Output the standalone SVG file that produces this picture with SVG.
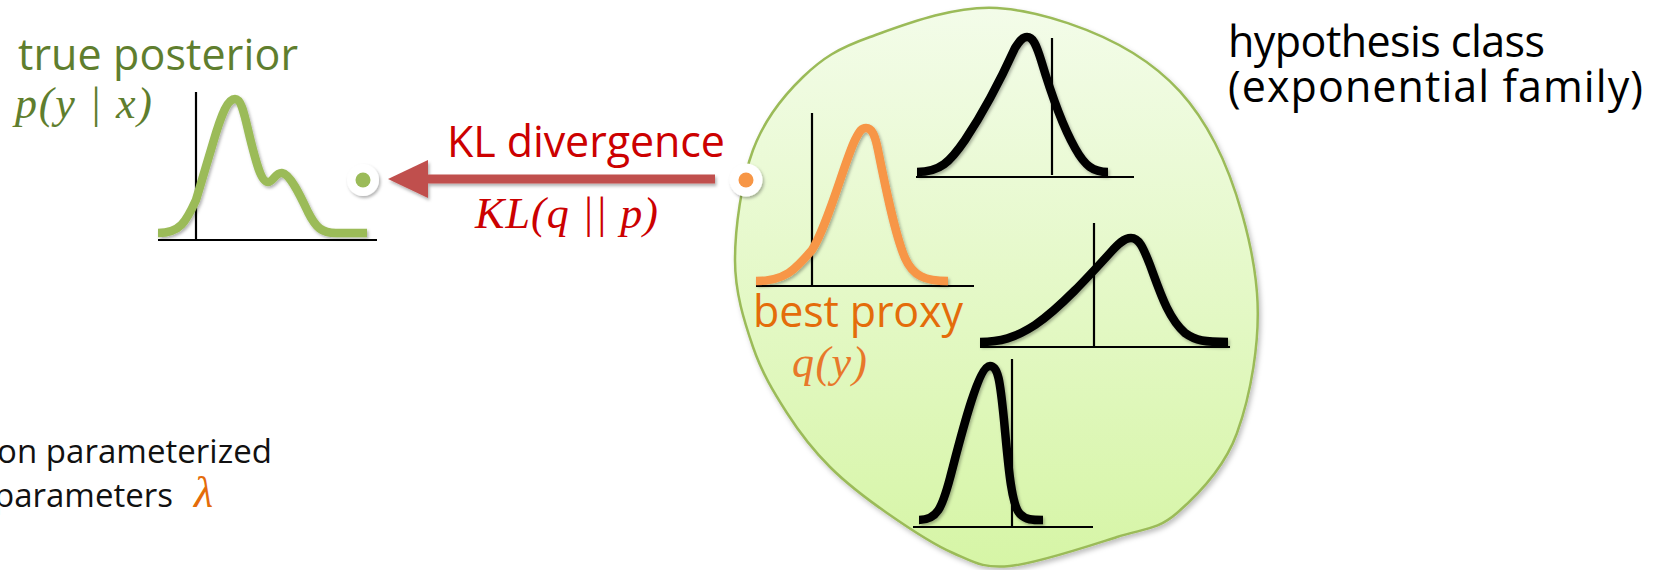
<svg xmlns="http://www.w3.org/2000/svg" width="1656" height="570" viewBox="0 0 1656 570">
<defs>
<linearGradient id="blobFill" x1="0" y1="0" x2="0" y2="1">
<stop offset="0" stop-color="#F3FCE9"/>
<stop offset="1" stop-color="#D6F5A6"/>
</linearGradient>
<filter id="shadow" x="-20%" y="-20%" width="140%" height="140%">
<feDropShadow dx="1.5" dy="2" stdDeviation="1.5" flood-color="#000" flood-opacity="0.3"/>
</filter>
<filter id="arrowShadow" filterUnits="userSpaceOnUse" x="360" y="140" width="380" height="80">
<feDropShadow dx="1.5" dy="2.5" stdDeviation="1.5" flood-color="#000" flood-opacity="0.3"/>
</filter>
<filter id="blobShadow" x="-10%" y="-10%" width="120%" height="120%">
<feDropShadow dx="2" dy="3" stdDeviation="2.5" flood-color="#000" flood-opacity="0.25"/>
</filter>
<marker id="head" viewBox="0 0 40 38" refX="0" refY="19" markerWidth="40" markerHeight="38" markerUnits="userSpaceOnUse" orient="auto">
<path d="M0,0 L40,19 L0,38 z" fill="#C0504D"/>
</marker>
<style>
.lbl{font-family:"Open Sans","Noto Sans",sans-serif;font-size:43px}
.small{font-family:"Open Sans","Noto Sans",sans-serif;font-size:33px;fill:#111}
.math{font-family:"Liberation Serif","Times New Roman",serif;font-style:italic;font-size:44px}
.axis{stroke:#000;stroke-width:2.2;fill:none}
.curve{fill:none;stroke-width:8.5;stroke-linecap:butt;stroke-linejoin:round;filter:url(#shadow)}
.black{stroke:#000}
.dotRing{fill:#fff;filter:url(#shadow)}
</style>
</defs>
<rect width="1656" height="570" fill="#fff"/>

<g id="hypothesis-class">
<path d="M997,8 C1040.8,10.7 1096.7,30.5 1133,53 C1169.3,75.5 1194.3,103 1215,143 C1235.7,183 1253.3,244.7 1257,293 C1260.7,341.3 1250.3,396.3 1237,433 C1223.7,469.7 1197,495.7 1177,513 C1157,530.3 1144.8,528.2 1117,537 C1089.2,545.8 1037.3,563.3 1010,566 C982.7,568.7 973.5,561.8 953,553 C932.5,544.2 907.5,527.3 887,513 C866.5,498.7 846.7,483.7 830,467 C813.3,450.3 799.8,433 787,413 C774.2,393 761.7,372.5 753,347 C744.3,321.5 735,292.8 735,260 C735,227.2 741.7,180.5 753,150 C764.3,119.5 783.5,95.8 803,77 C822.5,58.2 837.7,48.5 870,37 C902.3,25.5 953.2,5.3 997,8 Z" fill="url(#blobFill)" stroke="#9BBB59" stroke-width="2.5" filter="url(#blobShadow)"/>
<text class="lbl" fill="#000"><tspan x="1228" y="57" textLength="317" lengthAdjust="spacing">hypothesis class</tspan><tspan x="1228" y="102" textLength="415" lengthAdjust="spacing">(exponential family)</tspan></text>
</g>

<g id="hyp-top">
<line class="axis" x1="1052" y1="38" x2="1052" y2="175"/>
<line class="axis" x1="916" y1="177" x2="1134" y2="177"/>
<path class="curve black" d="M917,172 C940,172 950,162 965,140 C985,110 1005,70 1015,48 C1020,40 1023,37 1027,37 C1033,37 1036,44 1041,60 C1050,90 1062,125 1075,148 C1085,166 1093,172 1108,172"/>
</g>

<g id="hyp-middle">
<line class="axis" x1="1094" y1="223" x2="1094" y2="346"/>
<line class="axis" x1="980" y1="347" x2="1230" y2="347"/>
<path class="curve black" d="M980,342 C1000,342 1015,338 1035,325 C1060,308 1090,275 1110,253 C1118,244 1124,238 1131,238 C1139,238 1143,247 1150,265 C1160,292 1168,318 1185,333 C1196,341 1205,342 1228,342"/>
</g>

<g id="hyp-bottom">
<line class="axis" x1="1012" y1="359" x2="1012" y2="526"/>
<line class="axis" x1="913" y1="527" x2="1093" y2="527"/>
<path class="curve black" d="M919,520 C937,520 942,508 950,478 C960,440 978,366 990,366 C998,366 1000,380 1004,420 C1008,462 1011,505 1020,514 C1026,520 1032,520 1043,520"/>
</g>

<g id="best-proxy">
<line class="axis" x1="812" y1="113" x2="812" y2="285"/>
<line class="axis" x1="756" y1="286" x2="974" y2="286"/>
<path class="curve" stroke="#F79646" d="M756,281 C785,281 795,270 812,250 C828,225 845,160 855,140 C860,130 862,128 866,128 C872,128 875,135 878,150 C885,185 895,235 905,258 C913,276 925,281 948,281"/>
<text class="lbl" x="753" y="327" fill="#E46C0A" textLength="210" lengthAdjust="spacing">best proxy</text>
<text class="math" x="792" y="377" fill="#E8782A" textLength="75" lengthAdjust="spacing">q(y)</text>
<circle class="dotRing" cx="746" cy="180" r="16.5"/>
<circle cx="746" cy="180" r="7.5" fill="#F79646"/>
</g>

<g id="true-posterior">
<text class="lbl" x="18" y="70" fill="#5F7E2E" textLength="280" lengthAdjust="spacing">true posterior</text>
<text class="math" x="15" y="118" fill="#5F7E2E" font-size="42" textLength="137" lengthAdjust="spacing">p(y | x)</text>
<line class="axis" x1="196" y1="92" x2="196" y2="239"/>
<line class="axis" x1="158" y1="240" x2="377" y2="240"/>
<path class="curve" stroke="#9BBB59" d="M158,233 C180,233 186,222 196,200 L213,143 C222,112 228,99 235,99 C242,99 245,118 250,138 C256,162 261,182 268,182 C273,182 276,172 282,173 C290,174 300,195 308,212 C316,228 322,233 336,233 L367,233"/>
<circle class="dotRing" cx="363" cy="180" r="16"/>
<circle cx="363" cy="180" r="7.5" fill="#9BBB59"/>
</g>

<g id="connectors">
<path d="M715,179 L428,179" stroke="#C0504D" stroke-width="9" fill="none" marker-end="url(#head)" filter="url(#arrowShadow)"/>
<text class="lbl" x="447" y="157" fill="#CC0000" textLength="278" lengthAdjust="spacing">KL divergence</text>
<text class="math" x="475" y="228" fill="#CC0000" textLength="183" lengthAdjust="spacing">KL(q || p)</text>
</g>

<g id="param-note">
<text class="small"><tspan x="-3" y="463" textLength="275" lengthAdjust="spacing">on parameterized</tspan><tspan x="-6" y="507">parameters</tspan><tspan class="math" x="194" y="507" fill="#E46C0A">λ</tspan></text>
</g>
</svg>
